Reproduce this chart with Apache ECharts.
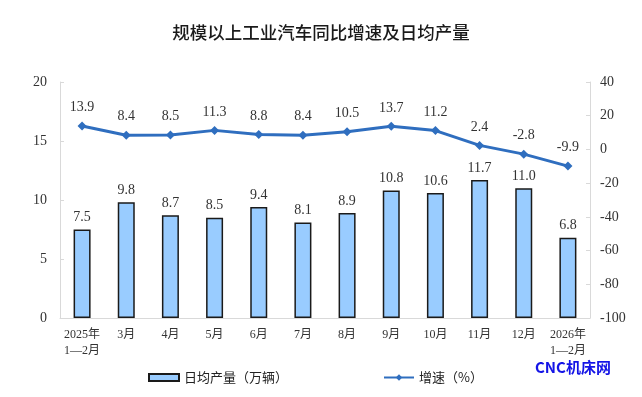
<!DOCTYPE html>
<html><head><meta charset="utf-8">
<script src="https://cdn.jsdelivr.net/npm/echarts@6/dist/echarts.min.js"></script>
<style>html,body{margin:0;padding:0;background:#fff}#c{width:642px;height:397px}</style>
</head><body><div id="c"></div>
<script>
const categories = ['2025年\n1—2月','3月','4月','5月','6月','7月','8月','9月','10月','11月','12月','2026年\n1—2月'];
const dailyOutput = [7.5, 9.8, 8.7, 8.5, 9.4, 8.1, 8.9, 10.8, 10.6, 11.7, 11.0, 6.8];
const growth = [13.9, 8.4, 8.5, 11.3, 8.8, 8.4, 10.5, 13.7, 11.2, 2.4, -2.8, -9.9];
const leftTicks = [0, 20, 5];   // min, max, interval
const rightTicks = [-100, 40, 20];

const serif = '"Liberation Serif","Times New Roman","Noto Sans CJK SC",serif';
const cjk = '"Noto Sans CJK SC",sans-serif';
const chart = echarts.init(document.getElementById('c'));
chart.setOption({
  animation: false,
  backgroundColor: '#fff',
  title: {
    text: '规模以上工业汽车同比增速及日均产量',
    left: 'center', top: 19,
    textStyle: {fontFamily: cjk, fontSize: 17.5, fontWeight: 500, color: '#1a1a1a'}
  },
  graphic: [{
    type: 'text', left: 535, top: 360,
    style: {text: 'CNC机床网', fill: '#1414E6', font: 'bold 15px "Noto Sans CJK SC", sans-serif'}
  }],
  legend: [{
    data: [{name: '日均产量（万辆）', icon: 'rect'}], left: 143, top: 366,
    itemWidth: 30, itemHeight: 7, itemGap: 4,
    textStyle: {fontFamily: cjk, fontSize: 13, color: '#222'}
  }, {
    data: ['增速（%）'], left: 378, top: 366,
    itemWidth: 30, itemHeight: 8,
    textStyle: {fontFamily: cjk, fontSize: 13, color: '#222'}
  }],
  grid: {left: 60, right: 52, top: 82, bottom: 79},
  xAxis: {
    type: 'category', data: categories,
    axisLine: {lineStyle: {color: '#d9d9d9'}},
    axisTick: {length: 4, lineStyle: {color: '#d9d9d9'}},
    axisLabel: {fontFamily: serif, fontSize: 12, color: '#333', margin: 9, lineHeight: 16, interval: 0}
  },
  yAxis: [{
    type: 'value', min: leftTicks[0], max: leftTicks[1], interval: leftTicks[2],
    axisLine: {show: true, lineStyle: {color: '#d9d9d9'}},
    axisTick: {show: true, inside: true, length: 4, lineStyle: {color: '#d9d9d9'}},
    splitLine: {show: false},
    axisLabel: {fontFamily: serif, fontSize: 14, color: '#333', margin: 13}
  }, {
    type: 'value', min: rightTicks[0], max: rightTicks[1], interval: rightTicks[2],
    axisLine: {show: true, lineStyle: {color: '#d9d9d9'}},
    axisTick: {show: true, inside: true, length: 4, lineStyle: {color: '#d9d9d9'}},
    splitLine: {show: false},
    axisLabel: {fontFamily: serif, fontSize: 14, color: '#333', margin: 10}
  }],
  series: [{
    name: '日均产量（万辆）', type: 'bar', data: dailyOutput, yAxisIndex: 0,
    barWidth: 17,
    itemStyle: {color: '#99CCFF', borderColor: '#1a1a1a', borderWidth: 1.5},
    label: {show: true, position: 'top', distance: 5, fontFamily: serif, fontSize: 14, color: '#333',
      formatter: p => p.value.toFixed(1)}
  }, {
    name: '增速（%）', type: 'line', data: growth, yAxisIndex: 1,
    symbol: 'diamond', symbolSize: 9,
    lineStyle: {color: '#2F6EBF', width: 3},
    itemStyle: {color: '#2F6EBF'},
    label: {show: true, position: 'top', distance: 7, fontFamily: serif, fontSize: 14, color: '#333',
      formatter: p => p.value.toFixed(1)}
  }]
});
</script></body></html>
